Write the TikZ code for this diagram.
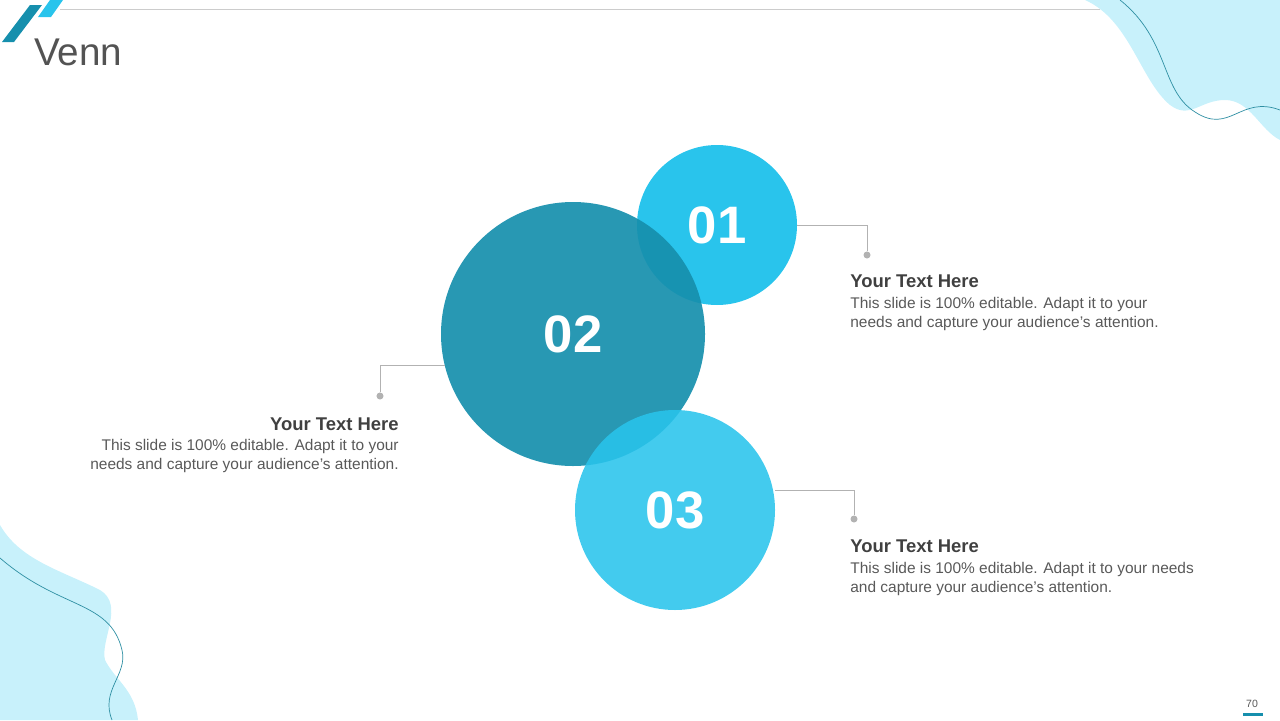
\documentclass[tikz,border=0pt]{standalone}
\usepackage{fontspec}
\setmainfont{Liberation Sans}
\usetikzlibrary{positioning}
\definecolor{cyanc}{HTML}{29C4EC}
\definecolor{tealc}{HTML}{168FAD}
\definecolor{blobc}{HTML}{C8F1FB}
\definecolor{linec}{HTML}{2E8FA3}
\definecolor{txtc}{HTML}{595959}
\definecolor{headc}{HTML}{404040}
\begin{document}
\begin{tikzpicture}[x=0.02cm, y=-0.02cm,
    bubble/.style={circle, inner sep=0pt, text=white, font=\fontsize{30}{30}\selectfont\bfseries},
    head/.style={font=\fontsize{10.5}{12}\selectfont\bfseries, text=headc, inner sep=0pt},
    body/.style={font=\fontsize{8.8}{11}\selectfont, text=txtc, inner sep=0pt, align=left},
    leader/.style={draw=black!30, thin},
    pin/.style={circle, fill=black!30, inner sep=0pt, minimum size=4pt}
    ]
    \useasboundingbox (0,0) rectangle (1280,720);
    % background blobs
    \fill[blobc] (1085,0) .. controls (1130,20) and (1140,80) .. (1170,105)
        .. controls (1190,120) and (1200,100) .. (1225,100)
        .. controls (1250,100) and (1260,130) .. (1280,140) -- (1280,0) -- cycle;
    \draw[linec] (1120,0) .. controls (1170,40) and (1160,90) .. (1195,112)
        .. controls (1230,135) and (1240,95) .. (1280,110);
    \fill[blobc] (0,525) .. controls (20,560) and (60,570) .. (100,590)
        .. controls (125,605) and (100,640) .. (105,660)
        .. controls (115,680) and (135,690) .. (138,720) -- (0,720) -- cycle;
    \draw[linec] (0,558) .. controls (60,610) and (110,600) .. (122,650)
        .. controls (128,675) and (100,690) .. (112,720);
    % header
    \fill[tealc] (2,42) -- (30,5) -- (42,5) -- (14,42) -- cycle;
    \fill[cyanc] (38,17) -- (50,0) -- (63,0) -- (51,17) -- cycle;
    \draw[black!20] (60,9) -- (1100,9);
    \node[anchor=west, font=\fontsize{22}{22}\selectfont, text=headc!90] (title) at (28,52) {Venn};
    % circles
    \fill[cyanc] (717,225) circle (80);
    \fill[tealc, opacity=0.92] (573,334) circle (132);
    \fill[cyanc, opacity=0.88] (675,510) circle (100);
    \node[bubble, minimum size=160*0.02cm] (c1) at (717,225) {01};
    \node[bubble, minimum size=264*0.02cm] (c2) at (573,334) {02};
    \node[bubble, minimum size=200*0.02cm] (c3) at (675,510) {03};
    % pins
    \node[pin] (p1) at (867,255) {};
    \node[pin] (p2) at (380,396) {};
    \node[pin] (p3) at (854,519) {};
    \draw[leader] (c1.east) -| (p1);
    \draw[leader] (c2.south west |- 0,365) ++(0,0) coordinate (q2);
    \coordinate (q2) at (445,365);
    \draw[leader] (q2) -| (p2);
    \coordinate (q3) at (775,490);
    \draw[leader] (q3) -| (p3);
    % texts
    \node[head, anchor=west] (h1) at (850,281) {Your Text Here};
    \node[body, anchor=north west] (b1) at (850,297) {This slide is 100\% editable. Adapt it to your\\needs and capture your audience's attention.};
    \node[head, anchor=east] (h2) at (399,424) {Your Text Here};
    \node[body, anchor=north east, align=right] (b2) at (399,439) {This slide is 100\% editable. Adapt it to your\\needs and capture your audience's attention.};
    \node[head, anchor=west] (h3) at (850,546) {Your Text Here};
    \node[body, anchor=north west] (b3) at (850,562) {This slide is 100\% editable. Adapt it to your needs\\and capture your audience's attention.};
    % page number
    \node[font=\fontsize{6}{6}\selectfont, text=txtc] (pg) at (1252,704) {70};
    \fill[tealc] (1243,713) rectangle (1263,716);
\end{tikzpicture}
\end{document}
